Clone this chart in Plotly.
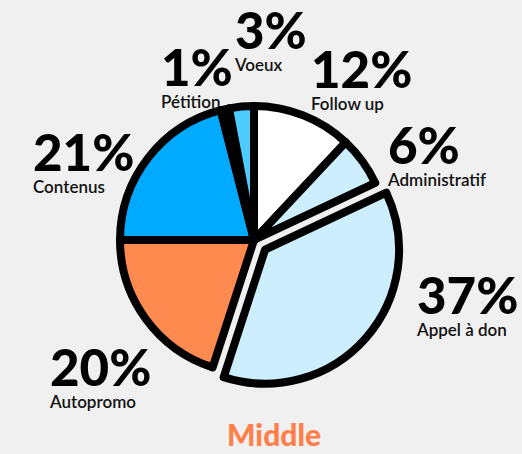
import plotly.graph_objects as go

# Share of content types, clockwise from 12 o'clock
labels = ["Follow up", "Administratif", "Appel à don", "Autopromo", "Contenus", "Pétition", "Voeux"]
values = [12, 6, 37, 20, 21, 1, 3]
colors = ["#ffffff", "#cceeff", "#cceeff", "#ff8a4f", "#00aaff", "#000000", "#4dccff"]
pulls = [0, 0, 0.11, 0, 0, 0, 0]

# Label anchor points (left edge, top of the percentage) in pixels
W, H = 522, 454
label_pos = {
    "Follow up": (309, 52),
    "Administratif": (385, 128),
    "Appel à don": (414, 278),
    "Autopromo": (47, 350),
    "Contenus": (31, 135),
    "Pétition": (159, 50),
    "Voeux": (232, 13),
}
top_pad = 16

fig = go.Figure(go.Pie(
    labels=labels,
    values=values,
    sort=False,
    direction="clockwise",
    rotation=0,
    pull=pulls,
    marker=dict(colors=colors, line=dict(color="#000000", width=8)),
    textinfo="none",
    hoverinfo="label+percent",
    domain=dict(x=[0.2016, 0.7716], y=[0.1438, 0.799]),
    showlegend=False,
))

annotations = []
total = sum(values)
for lab, val in zip(labels, values):
    px, py = label_pos[lab]
    pct = round(100 * val / total)
    annotations.append(dict(
        x=px / W, y=1 - (py - top_pad) / H, xref="paper", yref="paper",
        xanchor="left", yanchor="top", showarrow=False, align="left",
        text=(f"<span style='font-size:51px;font-weight:900;fill:#000000'>{pct}%</span>"
              f"<br>{lab}"),
        font=dict(family="Lato", size=17, color="#111111", weight=600),
    ))

annotations.append(dict(
    x=274 / W, y=1 - 434 / H, xref="paper", yref="paper",
    xanchor="center", yanchor="middle", showarrow=False,
    text="Middle",
    font=dict(family="Lato", size=30, color="#ff7f4a", weight=900),
))

fig.update_layout(
    width=W, height=H,
    margin=dict(l=0, r=0, t=0, b=0),
    paper_bgcolor="#f0f0f0",
    plot_bgcolor="#f0f0f0",
    annotations=annotations,
)

fig.write_html("out.html")
